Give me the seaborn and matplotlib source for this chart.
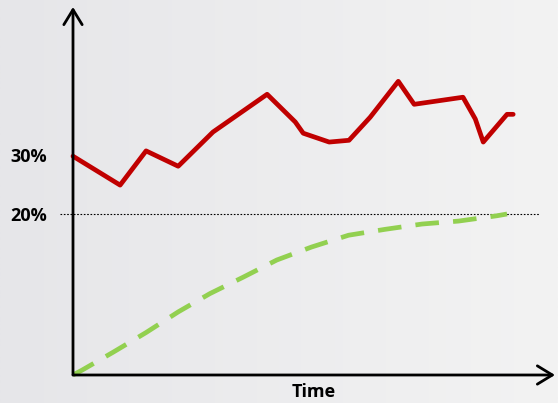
import numpy as np
import pandas as pd
import matplotlib
matplotlib.use("Agg")
import matplotlib.pyplot as plt
import seaborn as sns

# Observed series (time, percent)
obs_time = [0, 10.7, 16.6, 23.9, 31.8, 44.1, 50.5, 52.3, 58.2, 62.7, 67.5,
            73.9, 77.5, 88.6, 91.4, 93.2, 98.6, 100]
obs_value = [29.8, 24.9, 30.7, 28.1, 33.9, 40.3, 35.6, 33.7, 32.2, 32.5, 36.4,
             42.5, 38.6, 39.8, 36.1, 32.2, 36.9, 36.9]

# Expected trajectory approaching the 20% level
exp_time = [0, 2.0, 9.2, 16.6, 23.9, 31.1, 38.7, 46.3, 54.2, 62.6, 70.9,
            79.3, 87.6, 96.3, 98.6]
exp_value = [-7.3, -6.5, -3.4, -0.1, 3.4, 6.5, 9.3, 12.2, 14.4, 16.4, 17.4,
             18.3, 18.8, 19.7, 20.0]

threshold = 20
tick_values = [20, 30]
tick_labels = ["20%", "30%"]
x_label = "Time"

sns.set_theme(style="white")
plt.rcParams["font.family"] = ["Open Sans", "DejaVu Sans"]

W, H = 558, 403
fig = plt.figure(figsize=(W / 100, H / 100), dpi=100)

# soft horizontal gradient background
bg = fig.add_axes([0, 0, 1, 1], zorder=0)
grad = np.linspace(0, 1, 256).reshape(1, -1)
cmap = matplotlib.colors.LinearSegmentedColormap.from_list("bg", ["#e6e6e9", "#f3f3f3"])
bg.imshow(grad, aspect="auto", cmap=cmap, extent=[0, 1, 0, 1])
bg.set_axis_off()

ax = fig.add_axes([73 / W, 28 / H, (555 - 73) / W, (396 - 28) / H], zorder=1)
ax.patch.set_alpha(0)
ax.set_xlim(0, 109.5)
ax.set_ylim(-7.3, 55.1)

obs = pd.DataFrame({"t": obs_time, "v": obs_value})
exp = pd.DataFrame({"t": exp_time, "v": exp_value})

sns.lineplot(data=obs, x="t", y="v", ax=ax, color="#c00000", lw=3.4,
             sort=False, clip_on=False)
sns.lineplot(data=exp, x="t", y="v", ax=ax, color="#92d050", lw=3.4,
             sort=False, clip_on=False, dashes=False)
ax.lines[-1].set_dashes([5, 3])
ax.lines[-1].set_dash_capstyle("butt")

# threshold reference line
ax.plot([-3, 106], [threshold, threshold], color="black", lw=0.8,
        ls=(0, (1.5, 1.5)), clip_on=False, zorder=0.5)

for s in ax.spines.values():
    s.set_visible(False)

# axis arrows
arrow = dict(arrowstyle="->,head_length=0.9,head_width=0.55", lw=2, color="black",
             shrinkA=0, shrinkB=0)
ax.annotate("", xy=(0, 1), xytext=(0, 0), xycoords="axes fraction", arrowprops=arrow)
ax.annotate("", xy=(1, 0), xytext=(0, 0), xycoords="axes fraction", arrowprops=arrow)

ax.set_xticks([])
ax.set_yticks(tick_values)
ax.set_yticklabels(tick_labels, fontsize=13, fontweight="bold", color="black")
ax.tick_params(axis="y", length=0, pad=19)
ax.set_xlabel(x_label, fontsize=13, fontweight="bold", color="black", labelpad=6)
ax.set_ylabel("")

fig.savefig("out.png", dpi=100)
